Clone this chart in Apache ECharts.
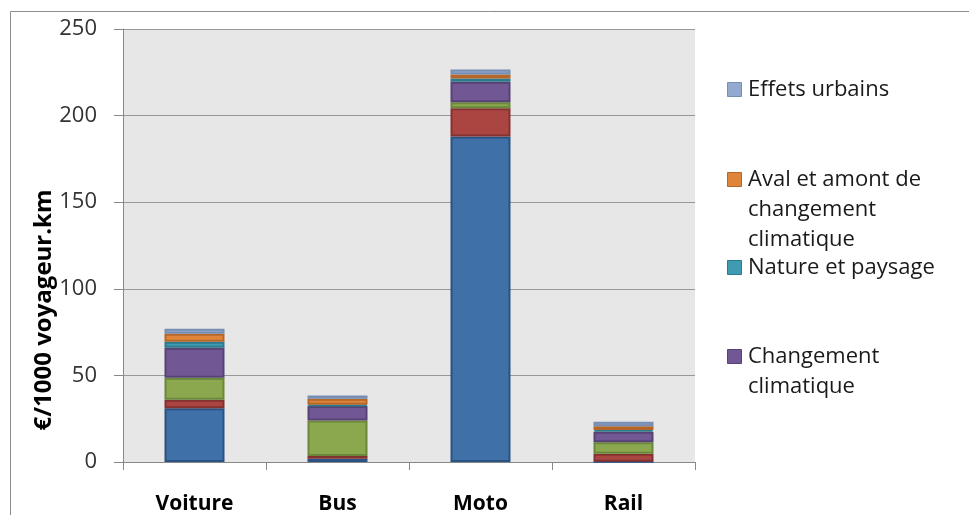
<!DOCTYPE html>
<html><head><meta charset="utf-8">
<script src="https://cdn.jsdelivr.net/npm/echarts@6/dist/echarts.min.js"></script>
<style>html,body{margin:0;padding:0;background:#fff}#c{width:969px;height:515px}</style>
</head><body><div id="c"></div>
<script>
const categories = ['Voiture', 'Bus', 'Moto', 'Rail'];
const seriesNames = ['Accidents', 'Bruit', "Pollution de l'air", 'Changement climatique', 'Nature et paysage', 'Aval et amont de changement climatique', 'Effets urbains'];
const accidents = [31, 1.9, 188, 0.2];
const bruit = [5, 1.6, 16.2, 4.5];
const pollution = [12.7, 20.5, 3.5, 6.7];
const changement = [17.2, 8.3, 11.8, 6.1];
const nature = [3.5, 0.7, 1.9, 1.0];
const avalAmont = [4.6, 3.5, 2.3, 2.1];
const effetsUrbains = [2.9, 1.9, 2.9, 2.7];
const yTicks = [0, 50, 100, 150, 200, 250];
const legendShown = ['Effets urbains', 'Aval et amont de changement climatique', 'Nature et paysage', 'Changement climatique'];
const legendLabels = ['Effets urbains', 'Aval et amont de\nchangement\nclimatique', 'Nature et paysage', 'Changement\nclimatique'];

const values = [accidents, bruit, pollution, changement, nature, avalAmont, effetsUrbains];
const fills = ['#3F70A8', '#AA4542', '#8BA84F', '#715894', '#3E9BB1', '#E0843A', '#93A9CF'];
const borders = ['#2A5282', '#843230', '#6A873A', '#564274', '#2D7A8C', '#B5672A', '#778DB2'];

const chart = echarts.init(document.getElementById('c'));
const legendTops = [82, 172, 260, 349];
const graphics = [
  {type: 'line', shape: {x1: 10.5, y1: 11.5, x2: 969, y2: 11.5}, style: {stroke: '#8c8c8c', lineWidth: 1}},
  {type: 'line', shape: {x1: 10.5, y1: 11.5, x2: 10.5, y2: 515}, style: {stroke: '#8c8c8c', lineWidth: 1}},
  {type: 'text', x: 44, y: 310, rotation: Math.PI / 2, style: {text: '€/1000 voyageur.km', font: 'bold 24px "Open Sans"', fill: '#000', align: 'center', verticalAlign: 'middle'}}
];
legendShown.forEach((n, i) => {
  const idx = seriesNames.indexOf(n);
  graphics.push({type: 'rect', shape: {x: 727.5, y: legendTops[i] + 0.5, width: 14, height: 14}, style: {fill: fills[idx], stroke: borders[idx], lineWidth: 1}});
  graphics.push({type: 'text', x: 748, y: legendTops[i] - 7, style: {text: legendLabels[i], font: '22px "Open Sans"', fill: '#1a1a1a', lineHeight: 30, align: 'left', verticalAlign: 'top'}});
});

chart.setOption({
  animation: false,
  grid: {left: 123, right: 274, top: 29, bottom: 52, show: true, backgroundColor: '#E7E7E7', borderWidth: 0},
  xAxis: {
    type: 'category', data: categories,
    axisLine: {lineStyle: {color: '#888', width: 1}},
    axisTick: {show: true, length: 8, lineStyle: {color: '#888'}},
    axisLabel: {fontFamily: 'Open Sans', fontSize: 21, fontWeight: 'bold', color: '#000', margin: 32}
  },
  yAxis: {
    type: 'value', min: yTicks[0], max: yTicks[yTicks.length - 1], interval: 50,
    axisLine: {show: true, lineStyle: {color: '#888', width: 1}},
    axisTick: {show: true, length: 9, lineStyle: {color: '#888'}},
    splitLine: {lineStyle: {color: '#999', width: 1}},
    axisLabel: {fontFamily: 'Open Sans', fontSize: 22, color: '#333', margin: 26}
  },
  series: seriesNames.map((n, i) => ({
    name: n, type: 'bar', stack: 'total', barWidth: 60, data: values[i],
    itemStyle: {color: fills[i], borderColor: borders[i], borderWidth: 2}
  })),
  graphic: graphics
});
</script></body></html>
